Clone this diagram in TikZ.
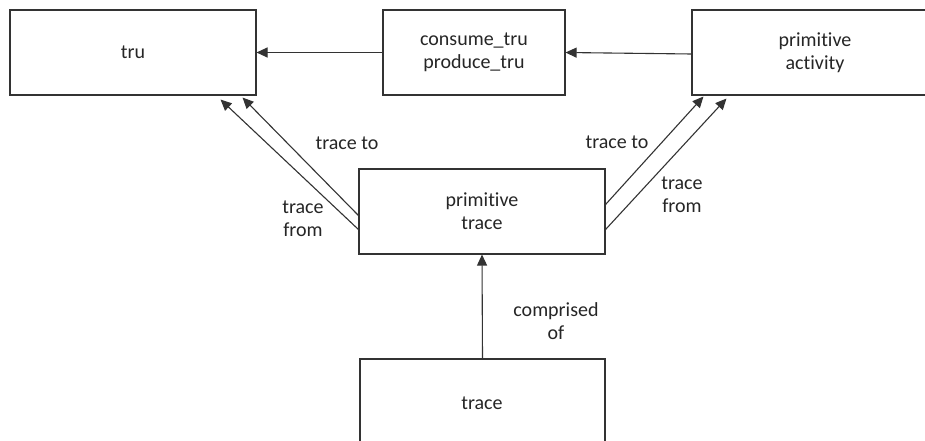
\documentclass[tikz,border=0pt]{standalone}
\usepackage{fontspec}
\setmainfont{Carlito}[Ligatures={NoCommon,NoRare,NoDiscretionary}]
\usetikzlibrary{arrows.meta}
\begin{document}
\begin{tikzpicture}[x=1pt,y=-1pt,
  box/.style={draw=black!80,line width=1.1pt,rectangle,align=center,inner sep=0pt,
    font=\fontsize{20}{23}\selectfont,text=black!85},
  lbl/.style={align=center,inner sep=0pt,font=\fontsize{20}{23}\selectfont,text=black!85},
  conn/.style={draw=black!80,line width=1.1pt,-{Triangle[length=11pt,width=10pt]}}]
\useasboundingbox (0,0) rectangle (925,441);
\clip (0,0) rectangle (925,441);
\fill[white] (0,0) rectangle (925,441);
\node[box,minimum width=246pt,minimum height=85pt] (tru) at (133,52.5) {tru};
\node[box,minimum width=182pt,minimum height=85pt] (cons) at (474,52.5) {consume\_tru\\produce\_tru};
\node[box,minimum width=246pt,minimum height=85pt] (act) at (815,52.5) {primitive\\activity};
\node[box,minimum width=246pt,minimum height=85pt] (pt) at (482,211.5) {primitive\\trace};
\node[box,minimum width=245pt,minimum height=100pt] (tr) at (482.5,409) {};
\node[lbl] (trtext) at (482,403) {trace};
% arrows
\draw[conn] (cons.west) -- (tru.east);
\draw[conn] ([yshift=-1.5pt]act.west) -- (cons.east);
\draw[conn] ([yshift=-4pt]pt.west) -- ([xshift=-14pt,yshift=-2pt]tru.south east);
\draw[conn] ([yshift=-18pt]pt.west) -- ([xshift=-36pt,yshift=-4pt]tru.south west -| tru.south east);
\draw[conn] ([yshift=7pt]pt.north east |- pt.east) -- ([xshift=12pt,yshift=-1pt]act.south west);
\draw[conn] ([yshift=-18pt]pt.east) -- ([xshift=35pt,yshift=-3pt]act.south west);
\draw[conn] (tr.north) -- (pt.south);
% labels
\node[lbl] (l1) at (347,143) {trace to};
\node[lbl] (l2) at (303,219) {trace\\from};
\node[lbl] (l3) at (617,142) {trace to};
\node[lbl] (l4) at (682,195) {trace\\from};
\node[lbl] (l5) at (556,321) {comprised\\of};
\end{tikzpicture}
\end{document}
